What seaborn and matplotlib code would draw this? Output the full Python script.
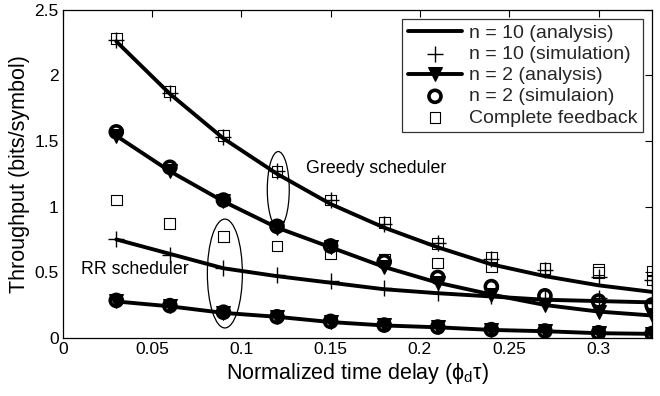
import numpy as np
import pandas as pd
import matplotlib
matplotlib.use("Agg")
import matplotlib.pyplot as plt
from matplotlib.patches import Ellipse
import seaborn as sns

delay = [0.03, 0.06, 0.09, 0.12, 0.15, 0.18, 0.21, 0.24, 0.27, 0.30, 0.33]

greedy_n10_analysis = [2.26, 1.86, 1.52, 1.25, 1.02, 0.84, 0.69, 0.56, 0.47, 0.40, 0.35]
greedy_n10_sim = [2.27, 1.87, 1.53, 1.27, 1.05, 0.87, 0.72, 0.60, 0.52, 0.46, 0.44]
greedy_feedback = [2.28, 1.88, 1.54, 1.27, 1.05, 0.88, 0.72, 0.61, 0.53, 0.50, 0.44]
greedy_n2_analysis = [1.54, 1.27, 1.04, 0.84, 0.69, 0.54, 0.42, 0.33, 0.25, 0.20, 0.17]
greedy_n2_sim = [1.57, 1.30, 1.05, 0.85, 0.70, 0.58, 0.46, 0.39, 0.32, 0.28, 0.25]
rr_n10_analysis = [0.75, 0.64, 0.53, 0.47, 0.42, 0.37, 0.34, 0.315, 0.29, 0.28, 0.27]
rr_n10_sim = [0.75, 0.63, 0.53, 0.48, 0.43, 0.38, 0.34, 0.32, 0.30, 0.30, 0.27]
rr_feedback = [1.05, 0.87, 0.77, 0.70, 0.64, 0.60, 0.57, 0.54, 0.53, 0.52, 0.51]
rr_n2_analysis = [0.277, 0.24, 0.19, 0.16, 0.12, 0.094, 0.08, 0.06, 0.05, 0.035, 0.03]
rr_n2_sim = [0.285, 0.245, 0.195, 0.16, 0.125, 0.097, 0.082, 0.062, 0.052, 0.038, 0.032]

sns.set_theme(style="white")
plt.rcParams['font.family'] = ['Liberation Sans', 'DejaVu Sans']
plt.rcParams['mathtext.fontset'] = 'custom'
plt.rcParams['mathtext.rm'] = 'Liberation Sans'
plt.rcParams['mathtext.it'] = 'Liberation Sans'

fig, ax = plt.subplots(figsize=(6.6, 3.96), dpi=100)
fig.subplots_adjust(left=0.095, right=0.988, top=0.975, bottom=0.147)

k = '#000000'
# analysis lines
sns.lineplot(x=delay, y=greedy_n10_analysis, ax=ax, color=k, lw=2.8, label='n = 10 (analysis)')
sns.lineplot(x=delay, y=rr_n10_analysis, ax=ax, color=k, lw=2.8)
# simulation plus
sns.scatterplot(x=delay, y=greedy_n10_sim, ax=ax, marker='+', s=120, color=k, linewidth=1.0, label='n = 10 (simulation)', zorder=4)
sns.scatterplot(x=delay, y=rr_n10_sim, ax=ax, marker='+', s=120, color=k, linewidth=1.0, zorder=4)
# n=2 analysis with triangles
sns.lineplot(x=delay, y=greedy_n2_analysis, ax=ax, color=k, lw=2.8, marker='v', markersize=10, markeredgecolor=k, label='n = 2 (analysis)')
sns.lineplot(x=delay, y=rr_n2_analysis, ax=ax, color=k, lw=2.8, marker='v', markersize=10, markeredgecolor=k)
# n=2 simulation circles
sns.scatterplot(x=delay, y=greedy_n2_sim, ax=ax, marker='o', s=75, facecolor='none', edgecolor=k, linewidth=2.6, label='n = 2 (simulaion)', zorder=5)
sns.scatterplot(x=delay, y=rr_n2_sim, ax=ax, marker='o', s=75, facecolor='none', edgecolor=k, linewidth=2.6, zorder=5)
# complete feedback squares
sns.scatterplot(x=delay, y=greedy_feedback, ax=ax, marker='s', s=60, facecolor='none', edgecolor=k, linewidth=0.8, label='Complete feedback', zorder=3)
sns.scatterplot(x=delay, y=rr_feedback, ax=ax, marker='s', s=60, facecolor='none', edgecolor=k, linewidth=0.8, zorder=3)

ax.add_patch(Ellipse((0.1207, 1.13), 0.0123, 0.58, fill=False, edgecolor=k, lw=0.9))
ax.add_patch(Ellipse((0.0908, 0.49), 0.0196, 0.83, fill=False, edgecolor=k, lw=0.9))
ax.text(0.1365, 1.255, 'Greedy scheduler', fontsize=12.8, color=k)
ax.text(0.0105, 0.49, 'RR scheduler', fontsize=12.8, color=k)

ax.set_xlim(0, 0.33)
ax.set_ylim(0, 2.5)
ax.set_xticks([0, 0.05, 0.1, 0.15, 0.2, 0.25, 0.3])
ax.set_xticklabels(['0', '0.05', '0.1', '0.15', '0.2', '0.25', '0.3'])
ax.set_yticks([0, 0.5, 1, 1.5, 2, 2.5])
ax.set_yticklabels(['0', '0.5', '1', '1.5', '2', '2.5'])
ax.tick_params(direction='in', top=True, right=True, length=5, width=0.8, labelsize=12.5, colors=k, pad=3)
for s in ax.spines.values():
    s.set_color(k)
    s.set_linewidth(0.9)
ax.set_xlabel(r'Normalized time delay ($\phi_d\tau$)', fontsize=15.5, color=k, labelpad=3)
ax.set_ylabel('Throughput (bits/symbol)', fontsize=15.5, color=k, labelpad=3)

leg = ax.legend(loc='upper right', fontsize=14, handlelength=2.8, frameon=True, fancybox=False,
                edgecolor=k, borderpad=0.3, labelspacing=0.18, handletextpad=0.35, borderaxespad=0.45)
leg.get_frame().set_linewidth(0.9)

fig.savefig('out.png', dpi=100)
